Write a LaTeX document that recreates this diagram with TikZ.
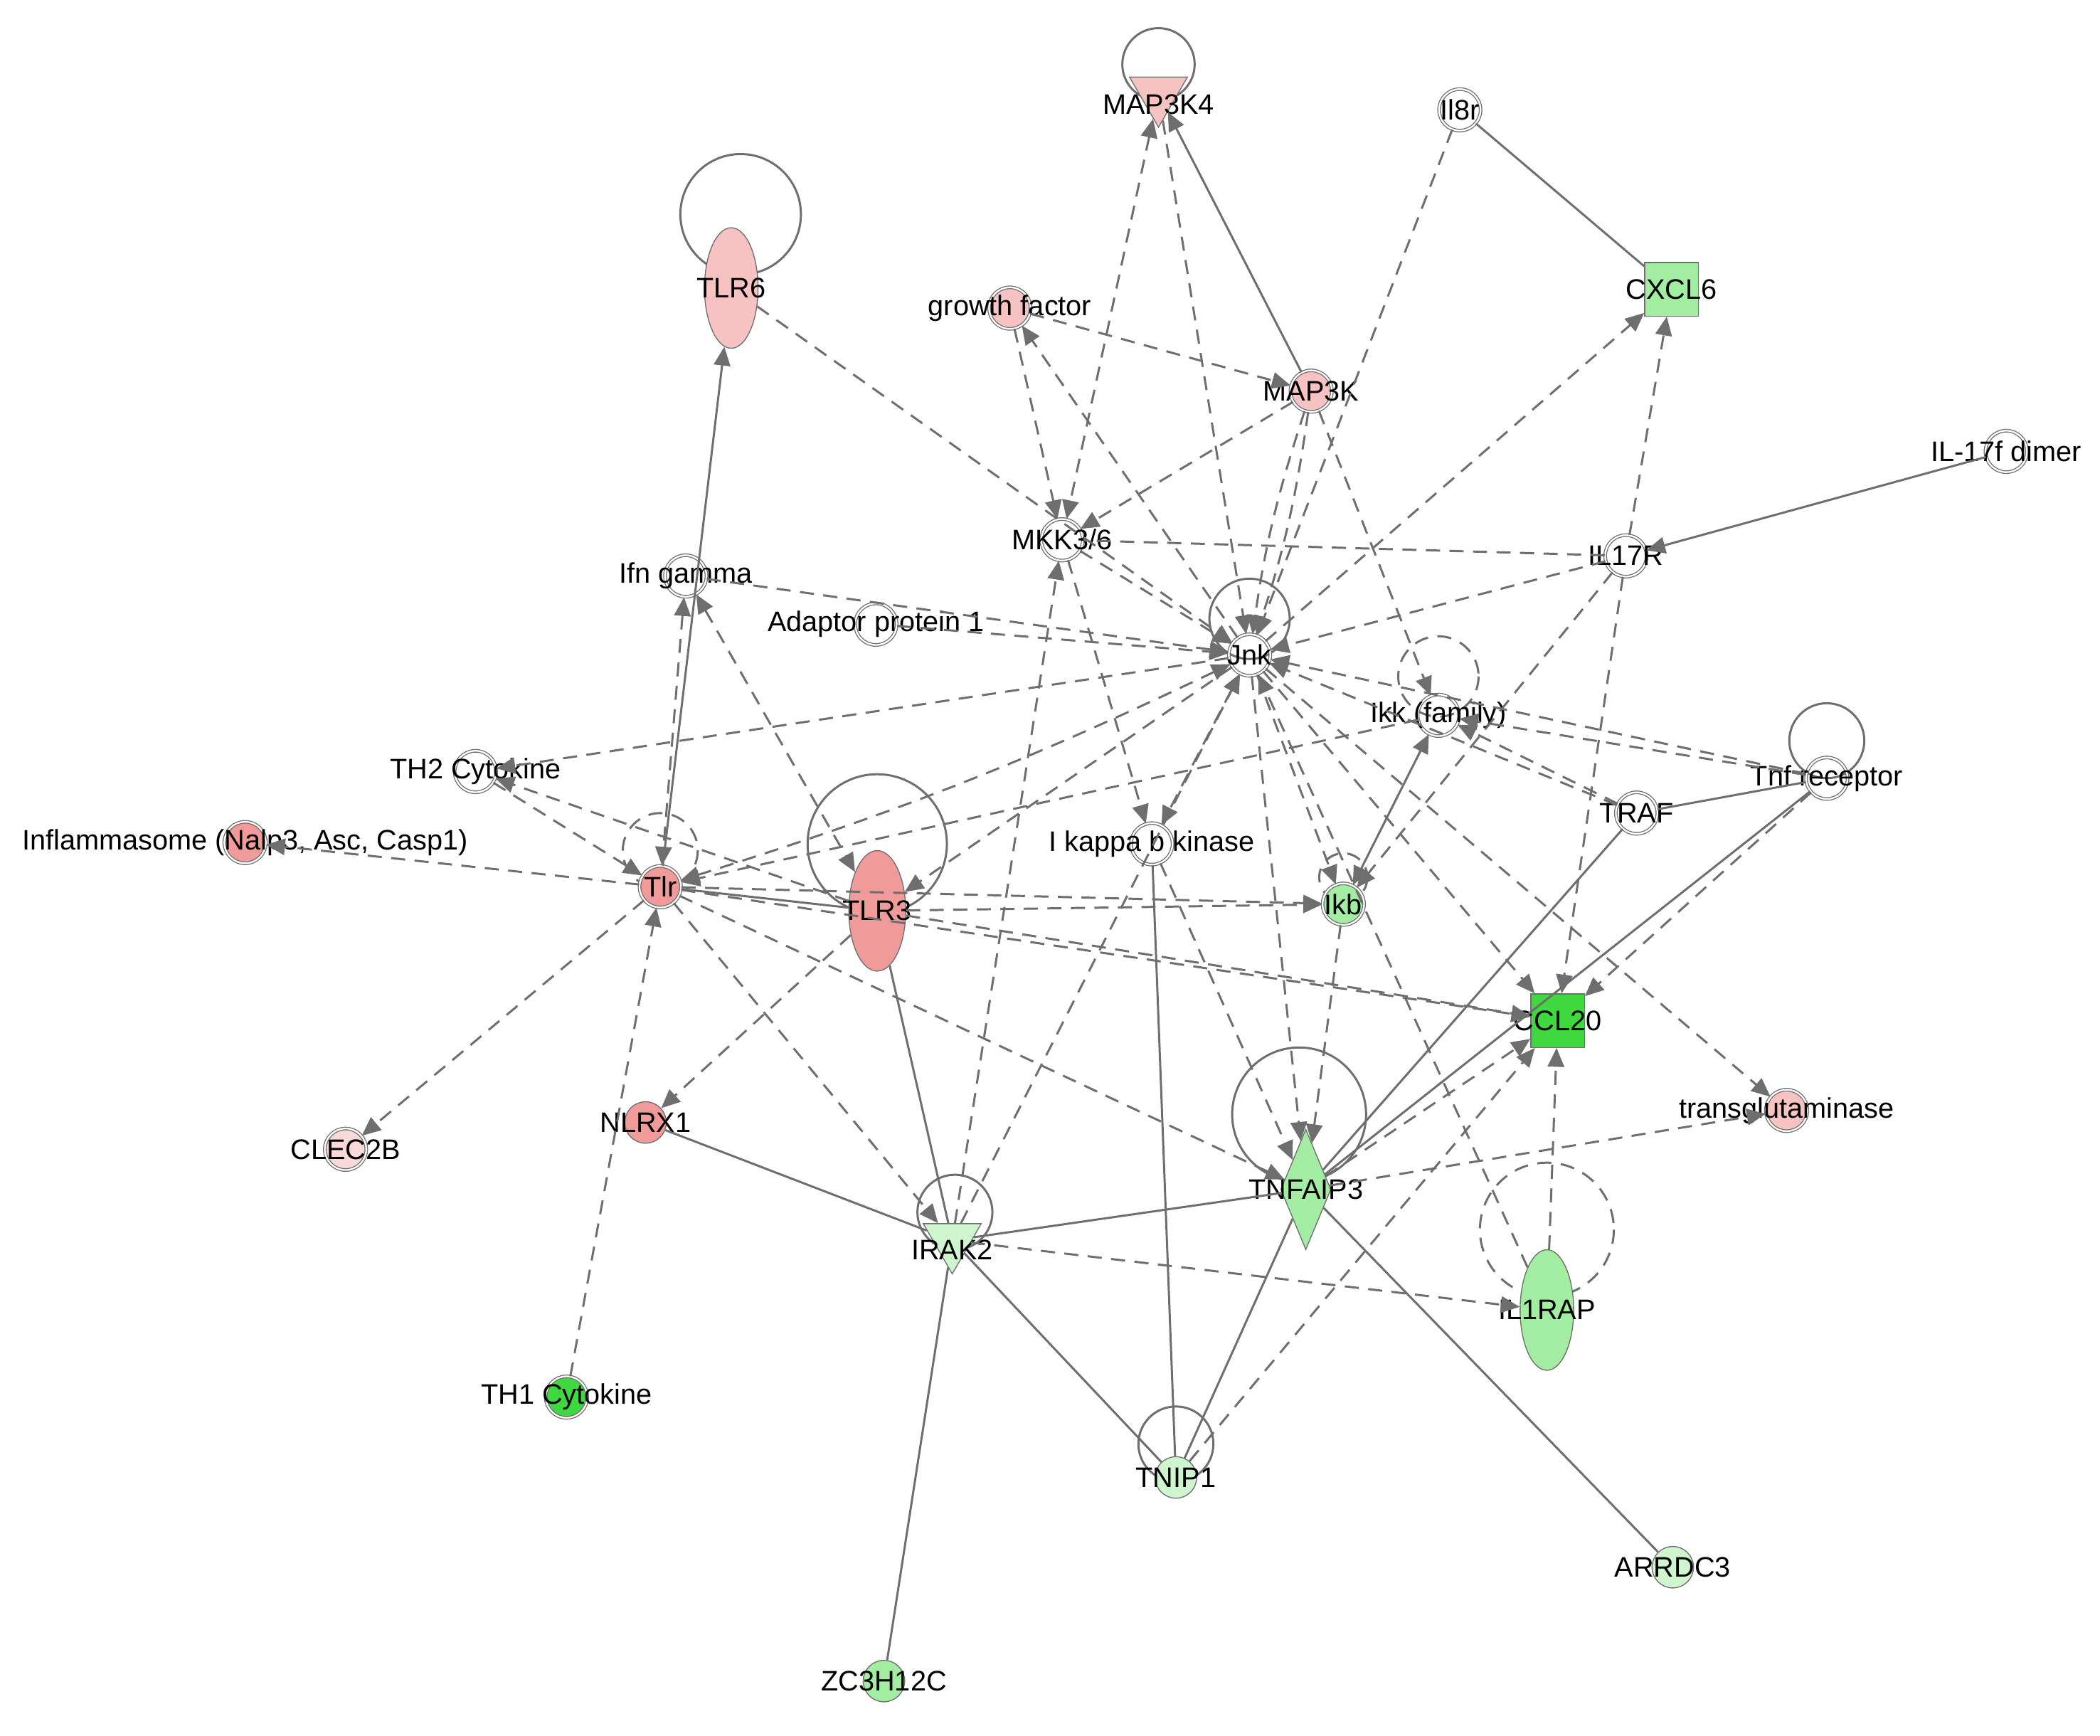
\documentclass[tikz,border=0pt]{standalone}
\usepackage{fontspec}
\setmainfont{Liberation Sans}
\usetikzlibrary{shapes.geometric,arrows.meta}
\definecolor{eg}{HTML}{6E6E6E}
\definecolor{pk}{HTML}{F6C2C2}
\definecolor{pk2}{HTML}{F09A9A}
\definecolor{pk3}{HTML}{F8D8D8}
\definecolor{gl}{HTML}{CFF5CF}
\definecolor{gm}{HTML}{A2EDA2}
\definecolor{gb}{HTML}{3FD83F}
\begin{document}
\begin{tikzpicture}[x=0.02cm,y=-0.02cm,
 font=\fontsize{12}{14}\selectfont,
 nd/.style={circle,draw=eg,minimum size=0.62cm,inner sep=0pt,double=white,double distance=0.7pt,thin},
 lbl/.style={text=black,inner sep=0pt},
 ell/.style={ellipse,draw=eg,minimum width=0.8cm,minimum height=1.8cm,inner sep=0pt},
 sq/.style={rectangle,draw=eg,minimum size=0.8cm,inner sep=0pt},
 tri/.style={regular polygon,regular polygon sides=3,shape border rotate=180,draw=eg,minimum size=1.0cm,inner sep=0pt},
 dia/.style={diamond,draw=eg,minimum width=0.75cm,minimum height=1.8cm,inner sep=0pt},
 se/.style={draw=eg,line width=0.9pt},
 de/.style={draw=eg,line width=0.9pt,dash pattern=on 6pt off 4pt},
 ar/.style={-{Triangle[length=8pt,width=7pt]}},
 ba/.style={{Triangle[length=8pt,width=7pt]}-{Triangle[length=8pt,width=7pt]}},
 loop/.style={draw=eg,line width=0.9pt}]
\useasboundingbox (0,0) rectangle (1568,1296);
% self loops
\draw[loop] (865,48) circle (27);
\draw[loop] (553,160) circle (45);
\draw[loop] (933,462) circle (30);
\draw[loop,dash pattern=on 6pt off 4pt] (1074,505) circle (30);
\draw[loop] (1364,553) circle (28);
\draw[loop,dash pattern=on 6pt off 4pt] (493,635) circle (28);
\draw[loop] (655,630) circle (52);
\draw[loop,dash pattern=on 6pt off 4pt] (1003,655) circle (18);
\draw[loop] (970,832) circle (50);
\draw[loop] (713,905) circle (28);
\draw[loop,dash pattern=on 6pt off 4pt] (1155,918) circle (50);
\draw[loop] (878,1078) circle (28);
% nodes
\node[tri,fill=pk] (map3k4) at (865,70) {}; \node[lbl] at (865,78) {MAP3K4};
\node[nd] (il8r) at (1090,82) {}; \node[lbl] at (1090,82) {Il8r};
\node[ell,fill=pk] (tlr6) at (546,215) {}; \node[lbl] at (546,215) {TLR6};
\node[nd,fill=pk] (gf) at (754,230) {}; \node[lbl] at (754,230) {growth factor};
\node[sq,fill=gm] (cxcl6) at (1248,216) {}; \node[lbl] at (1248,216) {CXCL6};
\node[nd,fill=pk] (map3k) at (979,292) {}; \node[lbl] at (979,292) {MAP3K};
\node[nd] (il17f) at (1498,337) {}; \node[lbl] at (1498,337) {IL-17f dimer};
\node[nd] (mkk) at (793,403) {}; \node[lbl] at (793,403) {MKK3/6};
\node[nd] (il17r) at (1214,415) {}; \node[lbl] at (1214,415) {IL17R};
\node[nd] (ifn) at (512,430) {}; \node[lbl] at (512,430) {Ifn gamma};
\node[nd] (ap1) at (654,466) {}; \node[lbl] at (654,466) {Adaptor protein 1};
\node[nd] (jnk) at (933,489) {}; \node[lbl] at (933,489) {Jnk};
\node[nd] (ikk) at (1074,534) {}; \node[lbl] at (1074,534) {Ikk (family)};
\node[nd] (th2) at (355,576) {}; \node[lbl] at (355,576) {TH2 Cytokine};
\node[nd] (tnfr) at (1364,581) {}; \node[lbl] at (1364,581) {Tnf receptor};
\node[nd] (traf) at (1222,607) {}; \node[lbl] at (1222,607) {TRAF};
\node[nd,fill=pk2] (infl) at (183,629) {}; \node[lbl] at (183,629) {Inflammasome (Nalp3, Asc, Casp1)};
\node[nd,fill=pk2] (tlr) at (493,662) {}; \node[lbl] at (493,662) {Tlr};
\node[ell,fill=pk2,minimum width=0.85cm] (tlr3) at (655,680) {}; \node[lbl] at (655,680) {TLR3};
\node[nd] (ikbk) at (860,630) {}; \node[lbl] at (860,630) {I kappa b kinase};
\node[nd,fill=gm] (ikb) at (1003,675) {}; \node[lbl] at (1003,675) {Ikb};
\node[sq,fill=gb] (ccl20) at (1163,762) {}; \node[lbl] at (1163,762) {CCL20};
\node[nd,fill=pk] (tg) at (1334,829) {}; \node[lbl] at (1334,829) {transglutaminase};
\node[nd,fill=pk3] (clec) at (258,858) {}; \node[lbl] at (258,858) {CLEC2B};
\node[nd,fill=pk2,double=none] (nlrx1) at (482,838) {}; \node[lbl] at (482,838) {NLRX1};
\node[dia,fill=gm] (tnfaip3) at (975,888) {}; \node[lbl] at (975,888) {TNFAIP3};
\node[tri,fill=gl] (irak2) at (711,926) {}; \node[lbl] at (711,933) {IRAK2};
\node[ell,fill=gm] (il1rap) at (1155,978) {}; \node[lbl] at (1155,978) {IL1RAP};
\node[nd,fill=gb] (th1) at (423,1043) {}; \node[lbl] at (423,1043) {TH1 Cytokine};
\node[nd,fill=gl,double=none] (tnip1) at (878,1103) {}; \node[lbl] at (878,1103) {TNIP1};
\node[nd,fill=gl,double=none] (arrdc3) at (1249,1170) {}; \node[lbl] at (1249,1170) {ARRDC3};
\node[nd,fill=gm,double=none] (zc) at (660,1255) {}; \node[lbl] at (660,1255) {ZC3H12C};
% solid edges
\draw[se,ar] (tlr) -- (tlr6);
\draw[se,ar] (map3k) -- (map3k4);
\draw[se] (il8r) -- (cxcl6);
\draw[se,ar] (il17f) -- (il17r);
\draw[se] (tlr) -- (tlr3);
\draw[se] (tlr3) -- (irak2);
\draw[se] (nlrx1) -- (irak2);
\draw[se] (irak2) -- (tnfaip3);
\draw[se] (irak2) -- (tnip1);
\draw[se] (irak2) -- (zc);
\draw[se] (tnfaip3) -- (arrdc3);
\draw[se] (tnip1) -- (tnfaip3);
\draw[se] (tnip1) -- (ikbk);
\draw[se] (tnfaip3) -- (traf);
\draw[se] (tnfr) -- (traf);
\draw[se] (tnfr) -- (tnfaip3);
\draw[se,ba] (ikk) -- (ikb);
% dashed edges
\draw[de,ar] (tlr6) -- (jnk);
\draw[de,ar] (gf) -- (map3k);
\draw[de,ar] (gf) -- (mkk);
\draw[de,ar] (jnk) -- (gf);
\draw[de,ba] (map3k4) -- (mkk);
\draw[de,ar] (map3k4) -- (jnk);
\draw[de,ar] (il8r) -- (jnk);
\draw[de,ar] (map3k) -- (mkk);
\draw[de,ar] (map3k) to[bend left=5] (jnk);
\draw[de,ar] (map3k) to[bend right=5] (jnk);
\draw[de,ar] (map3k) -- (ikk);
\draw[de,ar] (jnk) -- (cxcl6);
\draw[de,ar] (il17r) -- (cxcl6);
\draw[de,ar] (il17r) -- (ccl20);
\draw[de,ar] (il17r) -- (jnk);
\draw[de] (il17r) -- (mkk);
\draw[de,ar] (il17r) -- (ikb);
\draw[de,ar] (mkk) -- (jnk);
\draw[de,ar] (mkk) -- (ikbk);
\draw[de,ar] (ifn) -- (jnk);
\draw[de,ar] (ap1) -- (jnk);
\draw[de,ba] (ifn) -- (tlr3);
\draw[de,ba] (ifn) -- (tlr);
\draw[de,ar] (jnk) -- (th2);
\draw[de,ar] (th2) -- (tlr);
\draw[de,ar] (tlr3) -- (th2);
\draw[de,ba] (jnk) to[bend left=4] (tlr);
\draw[de,ar] (ikk) -- (tlr);
\draw[de,ar] (jnk) -- (tlr3);
\draw[de,ar] (jnk) -- (ikb);
\draw[de,ar] (jnk) -- (ccl20);
\draw[de,ar] (jnk) -- (tg);
\draw[de,ba] (jnk) -- (ikbk);
\draw[de,ar] (irak2) -- (mkk);
\draw[de,ar] (irak2) -- (jnk);
\draw[de,ar] (tnfr) -- (jnk);
\draw[de,ar] (tnfr) -- (ikk);
\draw[de,ar] (tnfr) -- (ccl20);
\draw[de,ar] (traf) -- (jnk);
\draw[de,ar] (traf) -- (ikk);
\draw[de,ar] (tlr) -- (infl);
\draw[de,ar] (tlr) -- (clec);
\draw[de,ar] (th1) -- (tlr);
\draw[de,ar] (tlr3) -- (nlrx1);
\draw[de,ar] (tlr) -- (irak2);
\draw[de,ar] (tlr) -- (tnfaip3);
\draw[de,ar] (tlr) -- (ccl20);
\draw[de,ar] (tlr) -- (ikb);
\draw[de,ar] (tlr3) -- (ikb);
\draw[de,ar] (tlr3) -- (ccl20);
\draw[de,ar] (tnfaip3) -- (ccl20);
\draw[de,ar] (tnfaip3) -- (tg);
\draw[de,ar] (ikb) -- (tnfaip3);
\draw[de,ar] (jnk) -- (tnfaip3);
\draw[de,ar] (irak2) -- (il1rap);
\draw[de,ar] (il1rap) -- (ccl20);
\draw[de,ar] (il1rap) -- (jnk);
\draw[de,ar] (tnip1) -- (ccl20);
\draw[de,ar] (ikbk) -- (tnfaip3);
\end{tikzpicture}
\end{document}
